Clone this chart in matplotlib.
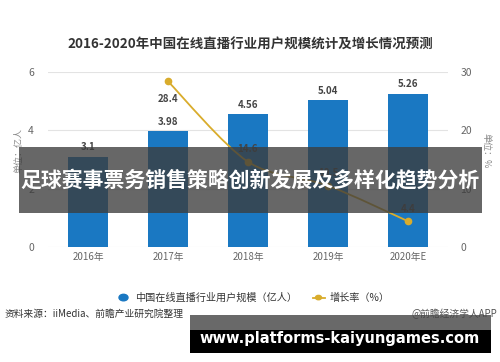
import matplotlib
matplotlib.use("Agg")
import matplotlib.pyplot as plt
from matplotlib.path import Path
from matplotlib.patches import PathPatch, Rectangle
import numpy as np

plt.rcParams['font.family'] = ['Noto Sans CJK SC', 'DejaVu Sans']

categories = ["2016年", "2017年", "2018年", "2019年", "2020年E"]
users = [3.1, 3.98, 4.56, 5.04, 5.26]
growth = [None, 28.4, 14.6, 10.5, 4.4]
left_ticks = [0, 2, 4, 6]
right_ticks = [0, 10, 20, 30]

title = "2016-2020年中国在线直播行业用户规模统计及增长情况预测"
banner = "足球赛事票务销售策略创新发展及多样化趋势分析"
url = "www.platforms-kaiyungames.com"

bar_color = "#1a78c2"
line_color = "#d9ac2c"
txt_gray = "#666666"

fig = plt.figure(figsize=(5, 3.62), dpi=100)
fig.patch.set_facecolor("white")
ax = fig.add_axes([0.096, 0.318, 0.8, 0.483])
ax2 = ax.twinx()

x = np.arange(len(categories))
ax.bar(x, users, width=0.49, color=bar_color, zorder=2)
for xi, v in zip(x, users):
    ax.text(xi, v + 0.15, f"{v:g}", ha="center", va="bottom", fontsize=7,
            fontweight="bold", color="#444444", zorder=5)

ax.set_xlim(-0.5, 4.5)
ax.set_ylim(0, 6)
ax.set_yticks(left_ticks)
ax.grid(axis="y", color="#e3e3e3", linewidth=0.8, zorder=0)
ax.set_axisbelow(True)
ax.set_xticks(x)
ax.set_xticklabels(categories, fontsize=7, color=txt_gray)
ax.tick_params(axis="x", length=0, pad=4)
ax.tick_params(axis="y", length=0, labelsize=7.5, labelcolor=txt_gray, pad=10)
for s in ax.spines.values():
    s.set_visible(False)

ax2.set_ylim(0, 30)
ax2.set_yticks(right_ticks)
ax2.tick_params(axis="y", length=0, labelsize=7.5, labelcolor=txt_gray, pad=9)
for s in ax2.spines.values():
    s.set_visible(False)

# smooth growth line (Catmull-Rom -> cubic Bezier)
gx = [xi for xi, g in zip(x, growth) if g is not None]
gy = [g for g in growth if g is not None]
pts = list(zip(gx, gy))
verts = [pts[0]]
codes = [Path.MOVETO]
for i in range(len(pts) - 1):
    p0 = pts[i - 1] if i > 0 else pts[i]
    p1 = pts[i]
    p2 = pts[i + 1]
    p3 = pts[i + 2] if i + 2 < len(pts) else pts[i + 1]
    t = 0.3
    c1 = (p1[0] + (p2[0] - p0[0]) * t / 2, p1[1] + (p2[1] - p0[1]) * t / 2)
    c2 = (p2[0] - (p3[0] - p1[0]) * t / 2, p2[1] - (p3[1] - p1[1]) * t / 2)
    verts += [c1, c2, p2]
    codes += [Path.CURVE4] * 3
ax2.add_patch(PathPatch(Path(verts, codes), facecolor="none", edgecolor=line_color,
                        linewidth=1.3, zorder=3))
ax2.plot(gx, gy, "o", color=line_color, markersize=4.5, zorder=4)
offsets = {1: -2.2, 2: 1.3, 3: 1.3, 4: 1.3}
for xi, g in zip(gx, gy):
    off = offsets[xi]
    ax2.text(xi, g + off, f"{g:g}", ha="center", va="top" if off < 0 else "bottom",
             fontsize=7, fontweight="bold", color="#444444", zorder=5)

# axis unit labels
fig.text(0.038, 0.585, "单位：亿人", rotation=90, ha="center", va="center",
         fontsize=6.5, color="#888888")
fig.text(0.972, 0.585, "单位：%", rotation=-90, ha="center", va="center",
         fontsize=6.5, color="#888888")

# title
fig.text(0.5, 0.876, title, ha="center", va="center", fontsize=9.7,
         fontweight="bold", color="#333333")

# legend
fig.patches.append(matplotlib.patches.Circle((0.247, 0.178), 0.009,
                   transform=fig.transFigure, color=bar_color, figure=fig))
fig.text(0.27, 0.178, "中国在线直播行业用户规模（亿人）", ha="left", va="center",
         fontsize=7.3, color="#333333")
fig.lines.append(matplotlib.lines.Line2D([0.625, 0.65], [0.178, 0.178],
                 transform=fig.transFigure, color=line_color, linewidth=1.3,
                 figure=fig))
fig.patches.append(matplotlib.patches.Circle((0.637, 0.178), 0.006,
                   transform=fig.transFigure, color=line_color, figure=fig))
fig.text(0.66, 0.178, "增长率（%）", ha="left", va="center", fontsize=7.3,
         color="#333333")

# source
fig.text(0.01, 0.133, "资料来源：iiMedia、前瞻产业研究院整理", ha="left", va="center",
         fontsize=7, color="#333333")
fig.text(0.995, 0.133, "@前瞻经济学人APP", ha="right", va="center",
         fontsize=7, color="#555555")

# overlay banner
fig.patches.append(Rectangle((0.038, 1 - 213 / 362), 0.926, 66 / 362,
                   transform=fig.transFigure, facecolor="#3c3c3c", alpha=0.78,
                   zorder=10, figure=fig))
fig.text(0.5, 1 - 181 / 362, banner, ha="center", va="center", fontsize=15,
         fontweight="bold", color="white", zorder=11)

# bottom url banner
fig.patches.append(Rectangle((0.38, 1 - 330 / 362), 0.602, 15 / 362,
                   transform=fig.transFigure, facecolor="#444444", alpha=0.8,
                   zorder=10, figure=fig))
fig.patches.append(Rectangle((0.38, 1 - 353 / 362), 0.602, 23 / 362,
                   transform=fig.transFigure, facecolor="black",
                   zorder=10, figure=fig))
fig.text(0.68, 1 - 338 / 362, url, ha="center", va="center", fontsize=10.5,
         fontweight="bold", color="white", family="DejaVu Sans", zorder=11)

fig.savefig("out.png", dpi=100)
